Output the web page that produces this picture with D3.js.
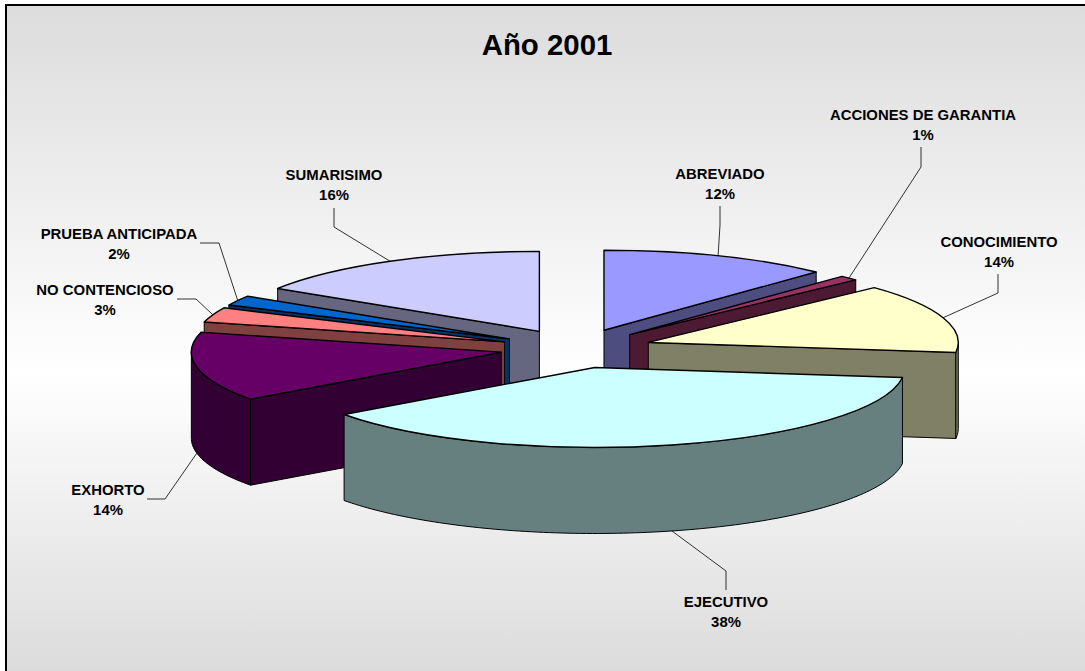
<!DOCTYPE html>
<html><head><meta charset="utf-8">
<script src="https://cdn.jsdelivr.net/npm/d3@7/dist/d3.min.js"></script>
<style>html,body{margin:0;padding:0;background:#fff}svg{display:block}text{font-family:"Liberation Sans",Arial,sans-serif;font-weight:bold;fill:#000}</style>
</head><body><svg id="c" width="1085" height="671"></svg>
<script>
const categories=["ABREVIADO","ACCIONES DE GARANTIA","CONOCIMIENTO","EJECUTIVO","EXHORTO","NO CONTENCIOSO","PRUEBA ANTICIPADA","SUMARISIMO"];
const percents=[12,1,14,38,14,3,2,16];
const topColors=["#9999FF","#993366","#FFFFCC","#CCFFFF","#660066","#FF8080","#0066CC","#CCCCFF"];
// label layout: centre x, first baseline y, elbow x,y, line start x,y
const labelX=[720,923,999,726,108,105,119,334];
const labelY=[179,120,247,607,495,295,239,180];
const lineStart=[[720,206],[921,147],[998,274],[726,590],[147,499],[177,299],[200,243],[334,208]];
const lineElbow=[[720,225],[921,167],[998,293],[726,571],[165,499],[196,299],[219,243],[334,227]];

const W=1085,H=671,cx=576,cy=348.5,rx=310,tilt=0.258,depth=86,explode=76;
const svg=d3.select("#c");
const defs=svg.append("defs");
const g=defs.append("linearGradient").attr("id","bg").attr("x1",0).attr("y1",0).attr("x2",0).attr("y2",1);
[[0,"#DCDCDC"],[0.54,"#FFFFFF"],[1,"#DADADA"]].forEach(s=>g.append("stop").attr("offset",s[0]).attr("stop-color",s[1]));
svg.append("rect").attr("x",6).attr("y",5).attr("width",1100).attr("height",680).attr("fill","url(#bg)").attr("stroke","#000").attr("stroke-width",2);

const pie=d3.pie().sort(null).startAngle(0).endAngle(2*Math.PI);
const arcs=pie(percents).map((d,i)=>{
  const mid=(d.startAngle+d.endAngle)/2;
  return {i,a0:d.startAngle,a1:d.endAngle,mid,
    ox:cx+explode*Math.sin(mid),oy:cy-explode*tilt*Math.cos(mid)};
});
const pt=(s,a,dz=0)=>[s.ox+rx*Math.sin(a),s.oy-rx*tilt*Math.cos(a)+dz];
const arcGen=d3.arc().innerRadius(0).outerRadius(rx);
const line=d3.line();
const half=c=>{const r=d3.rgb(c);return d3.rgb(r.r/2,r.g/2,r.b/2).formatHex();};

const root=svg.append("g").attr("stroke-linejoin","round");
function wallPoly(s,a){ // radial wall
  const o=[s.ox,s.oy],p=pt(s,a);
  return [o,p,[p[0],p[1]+depth],[o[0],o[1]+depth]];
}
function outerWall(s,from,to){
  const n=Math.max(2,Math.ceil((to-from)/0.02));
  const A=d3.range(n+1).map(k=>from+(to-from)*k/n);
  return A.map(a=>pt(s,a)).concat(A.reverse().map(a=>pt(s,a,depth)));
}
[...arcs].sort((a,b)=>Math.cos(b.mid)-Math.cos(a.mid)).forEach(s=>{
  const fill=topColors[s.i],side=half(fill);
  const gs=root.append("g");
  const poly=p=>gs.append("path").attr("d",line(p)+"Z").attr("fill",side).attr("stroke","#000").attr("stroke-width",1);
  if(Math.sin(s.a0)<0) poly(wallPoly(s,s.a0));
  if(Math.sin(s.a1)>0) poly(wallPoly(s,s.a1));
  const f=Math.max(s.a0,Math.PI/2),t=Math.min(s.a1,3*Math.PI/2);
  if(t>f) poly(outerWall(s,f,t));
  gs.append("path").attr("d",arcGen({startAngle:s.a0,endAngle:s.a1}))
    .attr("transform",`translate(${s.ox},${s.oy}) scale(1,${tilt})`)
    .attr("fill",fill).attr("stroke","#000").attr("stroke-width",1.4).attr("vector-effect","non-scaling-stroke");
});

// leaders
arcs.forEach(s=>{
  const front=Math.cos(s.mid)<0;
  const end=pt(s,s.mid,front?depth:0);
  svg.append("path").attr("d",line([lineStart[s.i],lineElbow[s.i],end])).attr("fill","none").attr("stroke","#000").attr("stroke-width",0.8);
  const t=svg.append("text").attr("text-anchor","middle").attr("font-size",14.9);
  t.append("tspan").attr("x",labelX[s.i]).attr("y",labelY[s.i]).text(categories[s.i]);
  t.append("tspan").attr("x",labelX[s.i]).attr("y",labelY[s.i]+20).text(percents[s.i]+"%");
});
svg.append("text").attr("x",547).attr("y",55).attr("text-anchor","middle").attr("font-size",29.4).text("Año 2001");
</script></body></html>
